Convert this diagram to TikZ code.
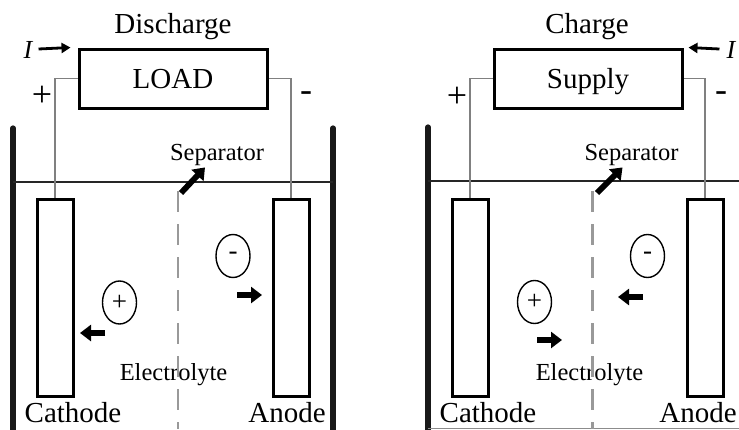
\documentclass[tikz,border=0pt]{standalone}
\usepackage{fontspec}
\setmainfont{Liberation Serif}
\usetikzlibrary{arrows.meta,shapes.geometric}
\tikzset{
  wall/.style={line width=5.2pt,line cap=round,black!90},
  level/.style={line width=2.6pt,black!85},
  electrode/.style={draw,line width=3pt,minimum width=36pt,minimum height=197pt,inner sep=0pt},
  wire/.style={line width=1.3pt,black!50},
  devbox/.style={draw,line width=3pt,minimum width=188pt,minimum height=59pt,text height=19pt,text depth=0pt,inner sep=0pt,font=\fontsize{29}{30}\selectfont},
  sepline/.style={line width=2.3pt,black!40,dash pattern=on 21pt off 12pt},
  ion/.style={draw,ellipse,line width=1.4pt,minimum width=34pt,minimum height=43pt,inner sep=0pt,font=\fontsize{27}{27}\selectfont},
  big/.style={font=\fontsize{29}{30}\selectfont,inner sep=0pt},
  small/.style={font=\fontsize{24.5}{25}\selectfont,inner sep=0pt},
  sign/.style={font=\fontsize{36}{36}\selectfont,inner sep=0pt},
  cur/.style={font=\fontsize{26}{26}\selectfont\itshape,inner sep=0pt},
  blk/.style={line width=5.8pt,-{Triangle[length=11pt,width=16pt]}},
  curr/.style={line width=2.8pt,-{Triangle[length=9pt,width=10pt]}}
}
\begin{document}
\begin{tikzpicture}[x=1pt,y=-1pt]
\useasboundingbox (0,0) rectangle (739,429);
% discharge
\draw[wall] (13,128) -- (13,434);
\draw[wall] (333,128) -- (333,434);
\draw[level] (13,182) -- (333,182);
\node[electrode] (cathL) at (55,297.5) {};
\node[electrode] (anodeL) at (291,298) {};
\node[devbox] (load) at (173,78.5) {LOAD};
\draw[wire] (cathL.north) |- (load.west);
\draw[wire] (anodeL.north) |- (load.east);
\node[big,anchor=base] (disch) at (173,33) {Discharge};
\node[big,anchor=base] (cathLbl) at (73,422) {Cathode};
\node[big,anchor=base] (anodeLbl) at (287,422) {Anode};
\node[sign] (plusL) at (42,96) {+};
\node[sign] (minusL) at (306,97) {-};
\node[cur] (curL) at (28,50) {I};
\draw[curr] ([xshift=6pt,yshift=1pt]curL.east) -- ([xshift=-7pt]load.north west);
\node[small,anchor=base] (sepL) at (217,160) {Separator};
\coordinate (sepLa) at (181,193);
\draw[blk] (sepLa) -- ([xshift=-12pt,yshift=-2pt]sepL.south);
\node[small,anchor=base] (elyL) at (173.5,380) {Electrolyte};
\draw[sepline] (178,191) -- (178,429);
\node[ion] (anL) at (233,256) {-};
\node[ion] (catL) at (119.5,302.5) {+};
\draw[blk] (105,333) -- (80,333);
\draw[blk] (237,295) -- (262,295);
% charge
\draw[wall] (428,127) -- (428,434);
\draw[level] (428,181) -- (739,181);
\draw[line width=1pt,black!45] (428,428) -- (739,428);
\node[electrode] (cathR) at (470,297.5) {};
\node[electrode] (anodeR) at (705,298) {};
\node[devbox] (supply) at (588,78.5) {Supply};
\draw[wire] (cathR.north) |- (supply.west);
\draw[wire] (anodeR.north) |- (supply.east);
\node[big,anchor=base] (chg) at (587,33) {Charge};
\node[big,anchor=base] (cathRbl) at (488,422) {Cathode};
\node[big,anchor=base] (anodeRbl) at (698,422) {Anode};
\node[sign] (plusR) at (457,97) {+};
\node[sign] (minusR) at (721,97) {-};
\node[cur] (curR) at (731,50) {I};
\draw[curr] ([xshift=-7pt,yshift=1pt]curR.west) -- ([xshift=5pt]supply.north east);
\node[small,anchor=base] (sepR) at (631.5,160) {Separator};
\coordinate (sepRa) at (597,193);
\draw[blk] (sepRa) -- ([xshift=-9pt,yshift=-2pt]sepR.south);
\node[small,anchor=base] (elyR) at (589.5,380) {Electrolyte};
\draw[sepline] (592.5,191) -- (592.5,429);
\node[ion] (anR) at (647.5,256) {-};
\node[ion] (catR) at (534.5,302) {+};
\draw[blk] (643,297) -- (618,297);
\draw[blk] (537,340) -- (562,340);
\end{tikzpicture}
\end{document}
